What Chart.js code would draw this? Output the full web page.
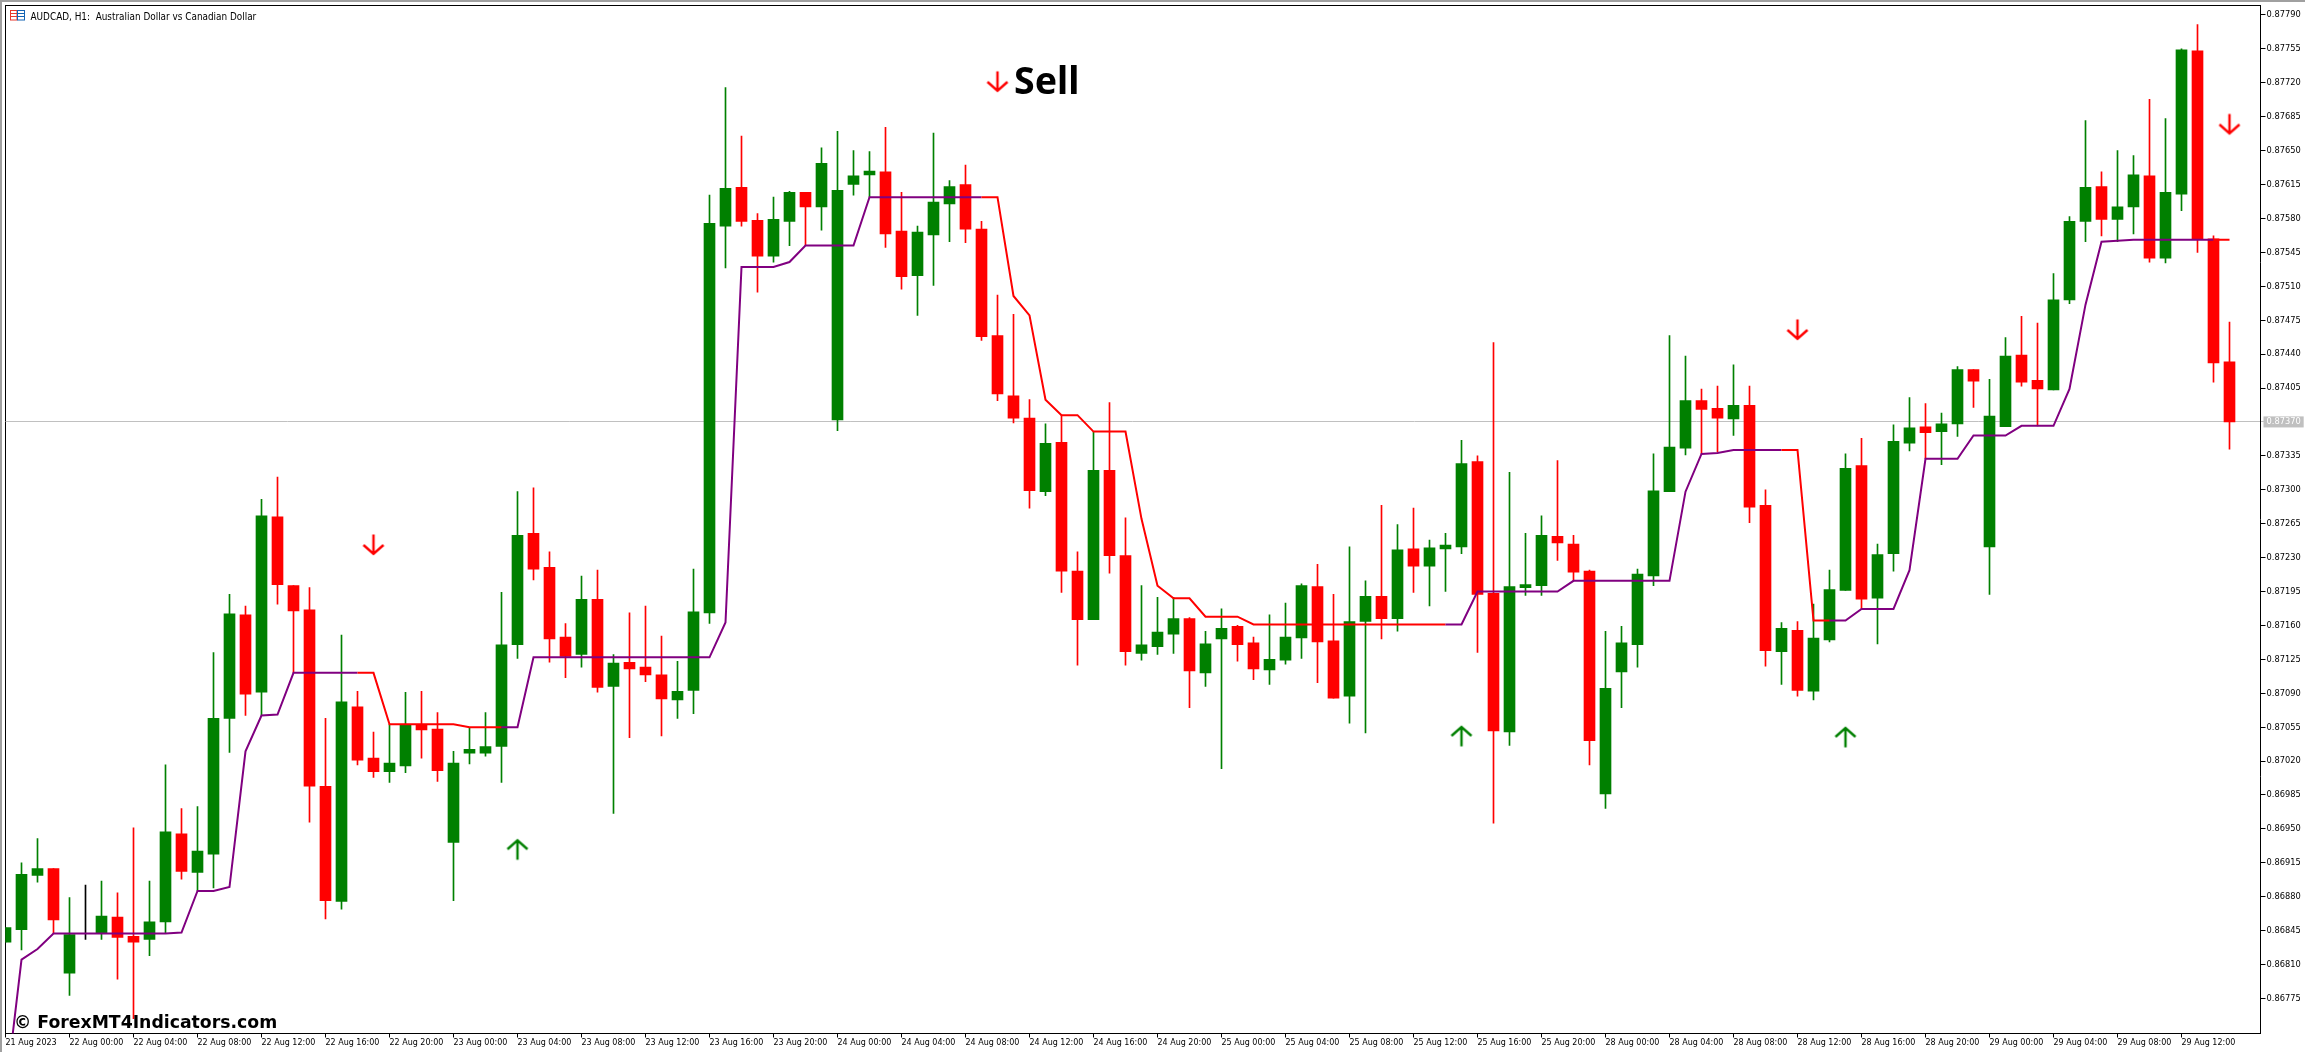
<!DOCTYPE html>
<html>
<head>
<meta charset="utf-8">
<title>AUDCAD, H1</title>
<script src="https://cdn.jsdelivr.net/npm/chart.js@4"></script>
<style>
    html, body { margin: 0; padding: 0; background: #fff; }
    #wrap { width: 2305px; height: 1052px; overflow: hidden; }
</style>
</head>
<body>
<div id="wrap"><canvas id="priceChart" width="2305" height="1052"></canvas></div>
<script>
const opens = [
    0.86833, 0.86846, 0.86902, 0.86909, 0.86801, 0.86842, 0.86842, 0.86859, 0.86839, 0.86836,
    0.86854, 0.86945, 0.86905, 0.86924, 0.87064, 0.87171, 0.87091, 0.87272, 0.87201, 0.87176,
    0.86994, 0.86875, 0.87076, 0.87023, 0.87009, 0.87015, 0.87058, 0.87053, 0.86936, 0.87028,
    0.87028, 0.87035, 0.87140, 0.87255, 0.87220, 0.87148, 0.87130, 0.87187, 0.87097, 0.87122,
    0.87117, 0.87109, 0.87083, 0.87093, 0.87173, 0.87572, 0.87612, 0.87578, 0.87541, 0.87577,
    0.87607, 0.87592, 0.87372, 0.87615, 0.87625, 0.87628, 0.87567, 0.87521, 0.87563, 0.87595,
    0.87615, 0.87569, 0.87459, 0.87397, 0.87374, 0.87298, 0.87349, 0.87216, 0.87166, 0.87320,
    0.87232, 0.87131, 0.87138, 0.87151, 0.87167, 0.87111, 0.87146, 0.87159, 0.87142, 0.87114,
    0.87124, 0.87147, 0.87200, 0.87144, 0.87087, 0.87164, 0.87190, 0.87167, 0.87239, 0.87221,
    0.87239, 0.87241, 0.87329, 0.87193, 0.87050, 0.87199, 0.87201, 0.87252, 0.87244, 0.87216,
    0.86986, 0.87112, 0.87140, 0.87211, 0.87298, 0.87343, 0.87392, 0.87384, 0.87373, 0.87387,
    0.87284, 0.87133, 0.87155, 0.87092, 0.87145, 0.87196, 0.87325, 0.87188, 0.87234, 0.87348,
    0.87365, 0.87360, 0.87368, 0.87424, 0.87241, 0.87365, 0.87439, 0.87413, 0.87403, 0.87496,
    0.87577, 0.87613, 0.87579, 0.87592, 0.87624, 0.87539, 0.87605, 0.87753, 0.87559, 0.87432
];
const closes = [
    0.86848, 0.86903, 0.86909, 0.86856, 0.86841, 0.86842, 0.86860, 0.86838, 0.86833, 0.86854,
    0.86947, 0.86906, 0.86927, 0.87064, 0.87172, 0.87089, 0.87273, 0.87202, 0.87175, 0.86994,
    0.86876, 0.87081, 0.87021, 0.87009, 0.87018, 0.87058, 0.87052, 0.87010, 0.87018, 0.87032,
    0.87035, 0.87140, 0.87253, 0.87218, 0.87146, 0.87128, 0.87187, 0.87096, 0.87121, 0.87115,
    0.87109, 0.87084, 0.87092, 0.87174, 0.87575, 0.87611, 0.87577, 0.87541, 0.87579, 0.87607,
    0.87592, 0.87637, 0.87609, 0.87624, 0.87629, 0.87564, 0.87520, 0.87566, 0.87597, 0.87613,
    0.87569, 0.87458, 0.87399, 0.87374, 0.87299, 0.87348, 0.87216, 0.87166, 0.87320, 0.87232,
    0.87133, 0.87140, 0.87153, 0.87167, 0.87113, 0.87141, 0.87157, 0.87140, 0.87115, 0.87125,
    0.87148, 0.87201, 0.87143, 0.87085, 0.87164, 0.87190, 0.87167, 0.87238, 0.87221, 0.87240,
    0.87243, 0.87327, 0.87192, 0.87051, 0.87200, 0.87202, 0.87253, 0.87245, 0.87215, 0.87041,
    0.87095, 0.87142, 0.87213, 0.87299, 0.87344, 0.87392, 0.87383, 0.87374, 0.87387, 0.87282,
    0.87134, 0.87157, 0.87093, 0.87147, 0.87197, 0.87322, 0.87187, 0.87233, 0.87350, 0.87364,
    0.87359, 0.87368, 0.87424, 0.87412, 0.87376, 0.87438, 0.87411, 0.87404, 0.87496, 0.87577,
    0.87612, 0.87579, 0.87592, 0.87625, 0.87539, 0.87607, 0.87754, 0.87558, 0.87431, 0.87370
];
const highs = [
    0.86848, 0.86915, 0.86940, 0.86909, 0.86879, 0.86892, 0.86896, 0.86884, 0.86951, 0.86896,
    0.87016, 0.86971, 0.86973, 0.87132, 0.87192, 0.87180, 0.87290, 0.87313, 0.87201, 0.87199,
    0.87064, 0.87150, 0.87092, 0.87050, 0.87058, 0.87091, 0.87092, 0.87070, 0.87030, 0.87054,
    0.87070, 0.87194, 0.87298, 0.87302, 0.87236, 0.87162, 0.87211, 0.87217, 0.87130, 0.87173,
    0.87180, 0.87149, 0.87123, 0.87218, 0.87604, 0.87715, 0.87665, 0.87585, 0.87602, 0.87608,
    0.87607, 0.87653, 0.87670, 0.87650, 0.87649, 0.87674, 0.87607, 0.87572, 0.87668, 0.87619,
    0.87635, 0.87577, 0.87501, 0.87481, 0.87393, 0.87368, 0.87377, 0.87236, 0.87360, 0.87390,
    0.87271, 0.87201, 0.87189, 0.87189, 0.87168, 0.87154, 0.87177, 0.87160, 0.87148, 0.87171,
    0.87183, 0.87203, 0.87223, 0.87192, 0.87241, 0.87206, 0.87284, 0.87264, 0.87281, 0.87248,
    0.87255, 0.87351, 0.87335, 0.87452, 0.87318, 0.87255, 0.87273, 0.87330, 0.87253, 0.87217,
    0.87154, 0.87159, 0.87218, 0.87337, 0.87459, 0.87438, 0.87404, 0.87407, 0.87429, 0.87407,
    0.87300, 0.87163, 0.87164, 0.87182, 0.87217, 0.87337, 0.87353, 0.87244, 0.87367, 0.87395,
    0.87389, 0.87379, 0.87427, 0.87424, 0.87414, 0.87457, 0.87479, 0.87472, 0.87523, 0.87582,
    0.87681, 0.87628, 0.87650, 0.87645, 0.87703, 0.87683, 0.87755, 0.87780, 0.87562, 0.87473
];
const lows = [
    0.86833, 0.86825, 0.86895, 0.86842, 0.86778, 0.86836, 0.86836, 0.86795, 0.86754, 0.86819,
    0.86842, 0.86898, 0.86886, 0.86889, 0.87029, 0.87067, 0.87067, 0.87182, 0.87111, 0.86957,
    0.86857, 0.86867, 0.87016, 0.87003, 0.86998, 0.87008, 0.87023, 0.86999, 0.86876, 0.87017,
    0.87025, 0.86998, 0.87126, 0.87207, 0.87122, 0.87106, 0.87117, 0.87091, 0.86966, 0.87044,
    0.87102, 0.87046, 0.87064, 0.87069, 0.87162, 0.87529, 0.87572, 0.87504, 0.87535, 0.87552,
    0.87552, 0.87568, 0.87361, 0.87604, 0.87602, 0.87550, 0.87507, 0.87480, 0.87511, 0.87556,
    0.87555, 0.87454, 0.87392, 0.87369, 0.87281, 0.87294, 0.87194, 0.87119, 0.87166, 0.87214,
    0.87119, 0.87124, 0.87130, 0.87131, 0.87075, 0.87097, 0.87012, 0.87123, 0.87104, 0.87099,
    0.87120, 0.87126, 0.87101, 0.87085, 0.87059, 0.87049, 0.87146, 0.87154, 0.87194, 0.87180,
    0.87195, 0.87234, 0.87132, 0.86956, 0.87036, 0.87191, 0.87191, 0.87227, 0.87206, 0.87016,
    0.86971, 0.87075, 0.87117, 0.87201, 0.87298, 0.87336, 0.87337, 0.87339, 0.87356, 0.87266,
    0.87118, 0.87099, 0.87087, 0.87083, 0.87143, 0.87196, 0.87177, 0.87141, 0.87216, 0.87340,
    0.87332, 0.87326, 0.87355, 0.87385, 0.87192, 0.87365, 0.87407, 0.87366, 0.87403, 0.87492,
    0.87556, 0.87562, 0.87556, 0.87564, 0.87535, 0.87534, 0.87588, 0.87545, 0.87411, 0.87342
];

// indicator line, one value per bar
const trendLine = [
    0.86675, 0.86815, 0.86826, 0.86842, 0.86842, 0.86842, 0.86842, 0.86842, 0.86842, 0.86842,
    0.86842, 0.86843, 0.86886, 0.86886, 0.86890, 0.87030, 0.87067, 0.87068, 0.87111, 0.87111,
    0.87111, 0.87111, 0.87111, 0.87111, 0.87058, 0.87058, 0.87058, 0.87058, 0.87058, 0.87055,
    0.87055, 0.87055, 0.87055, 0.87127, 0.87127, 0.87127, 0.87127, 0.87127, 0.87127, 0.87127,
    0.87127, 0.87127, 0.87127, 0.87127, 0.87127, 0.87163, 0.87530, 0.87530, 0.87530, 0.87535,
    0.87552, 0.87552, 0.87552, 0.87552, 0.87602, 0.87602, 0.87602, 0.87602, 0.87602, 0.87602,
    0.87602, 0.87602, 0.87602, 0.87500, 0.87480, 0.87393, 0.87377, 0.87377, 0.87360, 0.87360,
    0.87360, 0.87270, 0.87201, 0.87188, 0.87188, 0.87169, 0.87169, 0.87169, 0.87161, 0.87161,
    0.87161, 0.87161, 0.87161, 0.87161, 0.87161, 0.87161, 0.87161, 0.87161, 0.87161, 0.87161,
    0.87161, 0.87161, 0.87195, 0.87195, 0.87195, 0.87195, 0.87195, 0.87195, 0.87206, 0.87206,
    0.87206, 0.87206, 0.87206, 0.87206, 0.87206, 0.87298, 0.87337, 0.87338, 0.87341, 0.87341,
    0.87341, 0.87341, 0.87341, 0.87165, 0.87165, 0.87165, 0.87177, 0.87177, 0.87177, 0.87217,
    0.87332, 0.87332, 0.87332, 0.87356, 0.87356, 0.87356, 0.87366, 0.87366, 0.87366, 0.87404,
    0.87491, 0.87556, 0.87557, 0.87558, 0.87558, 0.87558, 0.87558, 0.87558, 0.87558, 0.87558
];
// bars between which the line turns red, purple elsewhere
const redSections = [[22, 31], [61, 90], [111, 114], [138, 139]];

const sellArrowBars = [23, 62, 112, 139];
const sellArrowPrices = [0.87243, 0.87721, 0.87465, 0.87677];
const buyArrowBars = [32, 91, 115];
const buyArrowPrices = [0.86929, 0.87046, 0.87045];

const currentPrice = 0.87370;
const priceTicks = [
    0.87790, 0.87755, 0.87720, 0.87685, 0.87650, 0.87615, 0.87580, 0.87545, 0.87510, 0.87475,
    0.87440, 0.87405, 0.87370, 0.87335, 0.87300, 0.87265, 0.87230, 0.87195, 0.87160, 0.87125,
    0.87090, 0.87055, 0.87020, 0.86985, 0.86950, 0.86915, 0.86880, 0.86845, 0.86810, 0.86775
];
// one label every 4 bars, starting at bar 0
const timeLabels = [
    "21 Aug 2023", "22 Aug 00:00", "22 Aug 04:00", "22 Aug 08:00", "22 Aug 12:00", "22 Aug 16:00", "22 Aug 20:00",
    "23 Aug 00:00", "23 Aug 04:00", "23 Aug 08:00", "23 Aug 12:00", "23 Aug 16:00", "23 Aug 20:00",
    "24 Aug 00:00", "24 Aug 04:00", "24 Aug 08:00", "24 Aug 12:00", "24 Aug 16:00", "24 Aug 20:00",
    "25 Aug 00:00", "25 Aug 04:00", "25 Aug 08:00", "25 Aug 12:00", "25 Aug 16:00", "25 Aug 20:00",
    "28 Aug 00:00", "28 Aug 04:00", "28 Aug 08:00", "28 Aug 12:00", "28 Aug 16:00", "28 Aug 20:00",
    "29 Aug 00:00", "29 Aug 04:00", "29 Aug 08:00", "29 Aug 12:00"
];

const GREEN = '#008000';
const RED = '#ff0000';
const PURPLE = '#800080';
const AXIS_FONT = 'DejaVu Sans Condensed, Roboto';

function barColor(i) {
    if (closes[i] > opens[i]) return GREEN;
    if (closes[i] < opens[i]) return RED;
    return '#000000';
}

function isRedSegment(i) {
    return redSections.some(s => i >= s[0] && i < s[1]);
}

// arrow marks are plain little canvases used as point styles
function makeArrow(color, pointsUp) {
    const c = document.createElement('canvas');
    c.width = 24;
    c.height = 24;
    const g = c.getContext('2d');
    if (pointsUp) {
        g.translate(0, 24);
        g.scale(1, -1);
    }
    g.strokeStyle = color;
    g.lineWidth = 2.4;
    g.beginPath();
    g.moveTo(12, 1.5);
    g.lineTo(12, 21);
    g.moveTo(2, 12);
    g.lineTo(12, 21);
    g.lineTo(22, 12);
    g.stroke();
    return c;
}

// frame, title, icon and the two overlay texts
const chartDecor = {
    id: 'chartDecor',
    beforeDraw(chart) {
        const g = chart.ctx;
        const a = chart.chartArea;
        g.save();
        g.fillStyle = '#a0a0a0';
        g.fillRect(0, 0, chart.width, 2);
        g.fillRect(0, 0, 2, chart.height);
        g.fillStyle = '#000';
        g.fillRect(Math.floor(a.left), Math.floor(a.top), a.right - a.left, 1);
        g.fillRect(Math.floor(a.left), Math.floor(a.top), 1, a.bottom - a.top);
        g.restore();
    },
    afterDatasetsDraw(chart) {
        const g = chart.ctx;
        g.save();
        g.textBaseline = 'alphabetic';
        g.fillStyle = '#000';

        g.font = '9.9px DejaVu Sans Condensed, Roboto';
        g.fillText('AUDCAD, H1:  Australian Dollar vs Canadian Dollar', 30.5, 20);

        g.font = 'bold 37.5px "Noto Sans"';
        g.fillText('Sell', 1014, 94);

        g.font = 'bold 17.3px "DejaVu Sans"';
        g.fillText('\u00a9 ForexMT4Indicators.com', 14, 1028);

        // chart icon
        g.lineWidth = 1;
        g.strokeStyle = '#e8392c';
        g.strokeRect(10.5, 10.5, 6.5, 9.5);
        g.strokeStyle = '#1464b4';
        g.strokeRect(17.5, 10.5, 7, 9.5);
        [13.5, 16.5].forEach(y => {
            g.strokeStyle = '#e8392c';
            g.beginPath();
            g.moveTo(11, y);
            g.lineTo(17, y);
            g.stroke();
            g.strokeStyle = '#1464b4';
            g.beginPath();
            g.moveTo(18, y);
            g.lineTo(24, y);
            g.stroke();
        });
        g.restore();
    }
};

const barIndex = opens.map((v, i) => i);

const ctx = document.getElementById('priceChart').getContext('2d');
const priceChart = new Chart(ctx, {
    type: 'bar',
    plugins: [chartDecor],
    data: {
        datasets: [{
            type: 'scatter',
            label: 'Sell arrows',
            data: sellArrowBars.map((b, i) => ({ x: b, y: sellArrowPrices[i] })),
            pointStyle: makeArrow(RED, false),
            order: 0
        }, {
            type: 'scatter',
            label: 'Buy arrows',
            data: buyArrowBars.map((b, i) => ({ x: b, y: buyArrowPrices[i] })),
            pointStyle: makeArrow(GREEN, true),
            order: 0
        }, {
            type: 'line',
            label: 'Trend line',
            data: barIndex.map(i => ({ x: i, y: trendLine[i] })),
            borderWidth: 2,
            borderColor: PURPLE,
            tension: 0,
            pointRadius: 0,
            segment: {
                borderColor: c => isRedSegment(c.p0DataIndex) ? RED : PURPLE
            },
            order: 1
        }, {
            label: 'Bodies',
            data: barIndex.map(i => ({ x: i, y: [opens[i], closes[i]] })),
            backgroundColor: barIndex.map(barColor),
            barThickness: 11,
            grouped: false,
            order: 2
        }, {
            label: 'Wicks',
            data: barIndex.map(i => ({ x: i, y: [lows[i], highs[i]] })),
            backgroundColor: barIndex.map(barColor),
            barThickness: 1,
            grouped: false,
            order: 3
        }]
    },
    options: {
        responsive: false,
        animation: false,
        events: [],
        layout: { padding: { left: 5.5, top: 4.5, right: 0, bottom: 0 } },
        plugins: {
            legend: { display: false },
            tooltip: { enabled: false },
            title: { display: false }
        },
        scales: {
            x: {
                type: 'linear',
                offset: false,
                min: 0,
                max: 140.9375,
                afterBuildTicks(scale) {
                    scale.ticks = timeLabels.map((t, i) => ({ value: i * 4 }));
                },
                afterFit(scale) {
                    scale.height = 18.5;
                },
                border: { display: true, color: '#000', width: 1 },
                grid: {
                    offset: false,
                    drawOnChartArea: false,
                    drawTicks: true,
                    tickLength: 4,
                    tickColor: '#000'
                },
                ticks: {
                    autoSkip: false,
                    maxRotation: 0,
                    minRotation: 0,
                    align: 'start',
                    padding: 0,
                    color: '#000',
                    font: { family: AXIS_FONT, size: 8.9 },
                    callback: (value, index) => timeLabels[index]
                }
            },
            y: {
                type: 'linear',
                position: 'right',
                beginAtZero: false,
                min: 0.867388,
                max: 0.878003,
                afterBuildTicks(scale) {
                    scale.ticks = priceTicks.map(v => ({ value: v }));
                },
                afterFit(scale) {
                    scale.width = 44.5;
                    // tick labels must not push the plot area down
                    scale.paddingTop = 0;
                    scale.paddingBottom = 0;
                },
                border: { display: true, color: '#000', width: 1 },
                grid: {
                    drawTicks: true,
                    tickLength: 5,
                    color: c => c.tick && c.tick.value === currentPrice ? '#c0c0c0' : 'rgba(0,0,0,0)',
                    tickColor: c => c.tick && c.tick.value === currentPrice ? '#c0c0c0' : '#000'
                },
                ticks: {
                    autoSkip: false,
                    padding: 1,
                    font: { family: AXIS_FONT, size: 9.2 },
                    color: c => c.tick && c.tick.value === currentPrice ? '#ffffff' : '#000',
                    showLabelBackdrop: c => !!(c.tick && c.tick.value === currentPrice),
                    backdropColor: '#c0c0c0',
                    backdropPadding: { left: 3, right: 3, top: 0, bottom: 0 },
                    callback: value => value.toFixed(5)
                }
            }
        }
    }
});
</script>
</body>
</html>
